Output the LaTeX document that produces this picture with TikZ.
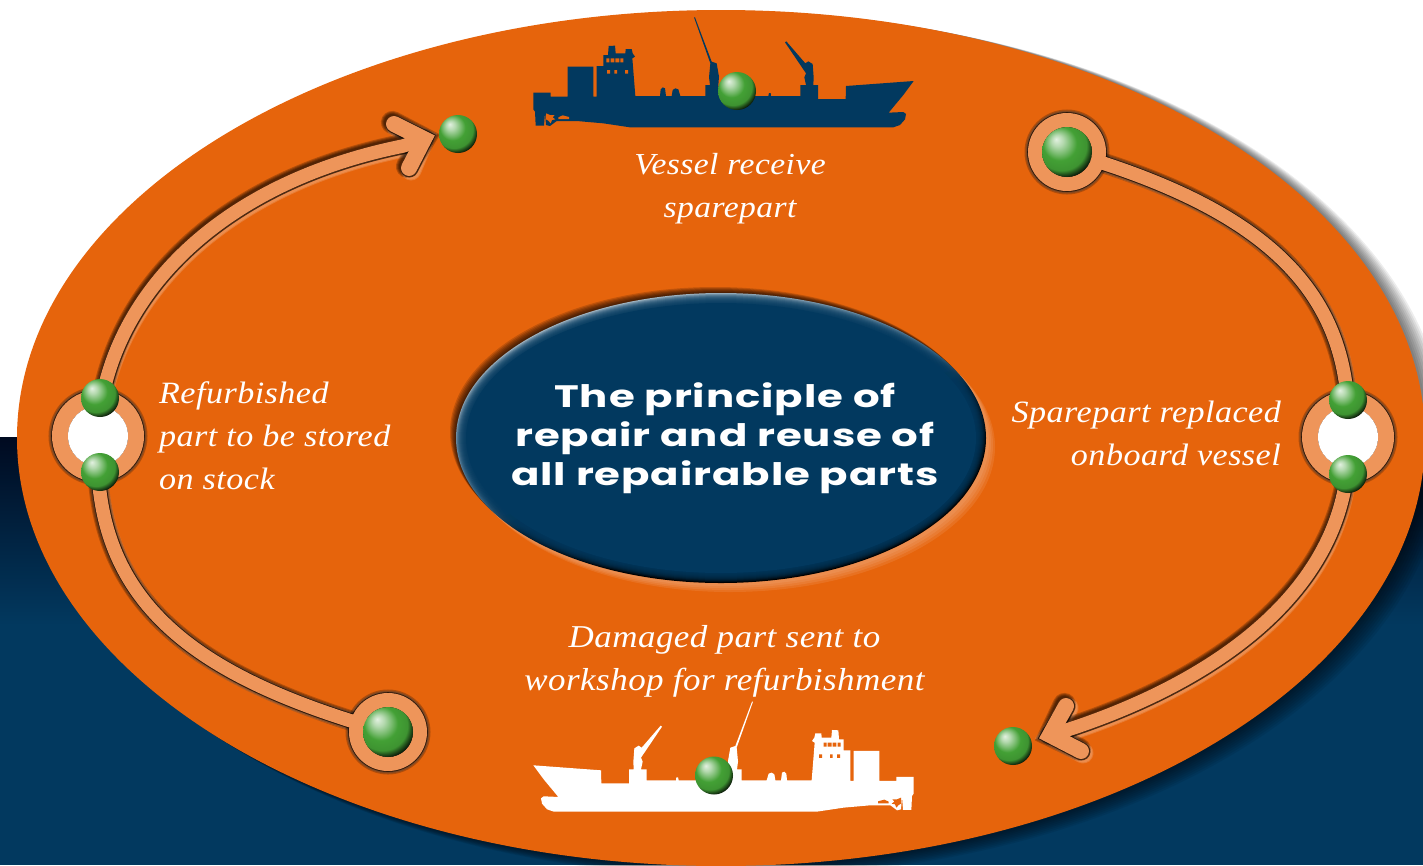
\documentclass[tikz,border=0pt]{standalone}
\usepackage{fontspec}
\setmainfont{Liberation Serif}
\newfontfamily\capfont[FakeStretch=1.1,LetterSpace=1.5]{Liberation Serif}
\newfontfamily\titlefont[FakeStretch=1.35,LetterSpace=3]{Poppins}
\definecolor{navy}{HTML}{02395F}
\definecolor{navydark}{HTML}{000A20}
\definecolor{plate}{HTML}{E6640C}
\definecolor{band}{HTML}{EE955A}
\definecolor{ballmid}{HTML}{43A035}
\pgfdeclareradialshading{gball}{\pgfpoint{-11bp}{13bp}}{%
 color(0bp)=(white!85!ballmid);
 color(6bp)=(white!60!ballmid);
 color(12bp)=(white!28!ballmid);
 color(17bp)=(ballmid);
 color(25bp)=(ballmid!92!black);
 color(28bp)=(ballmid!50!black);
 color(31bp)=(ballmid!12!black);
 color(33bp)=(black);
 color(50bp)=(black)}
\pgfdeclareverticalshading{rimshade}{100bp}{%
 color(0bp)=(black);
 color(36bp)=(black);
 color(46bp)=(navy!60!black);
 color(52bp)=(white!20!navy);
 color(72bp)=(white!62!navy);
 color(100bp)=(white!62!navy)}
\tikzset{
 gballnode/.style={circle,inner sep=0pt,outer sep=0pt,minimum size=#1,shading=gball},
 caption/.style={text=white,inner sep=0pt,font=\fontsize{31}{43}\selectfont\capfont\itshape},
 bandline/.style={line cap=round,line join=miter,miter limit=10},
}
% the whole band system, widened by #1; the colour etc. come from the scope
\newcommand\bandpaths[1]{%
 \draw[bandline,line width={13.5+#1}] (hubL) .. controls (102,310) and (205,186) .. (403,146) -- (tipA);
 \draw[bandline,line width={16+#1}] (394,124) -- (tipA) -- (409,168);
 \draw[bandline,line width={13.5+#1}] (hubR) .. controls (1354,298) and (1275,212) .. (hubTR);
 \draw[bandline,line width={13.5+#1}] (hubR) .. controls (1355,575) and (1235,675) .. (1067,730) -- (tipB);
 \draw[bandline,line width={16+#1}] (1081,751) -- (tipB) -- (1066,706);
 \draw[bandline,line width={13.5+#1}] (hubL) .. controls (90,600) and (190,676) .. (hubBL);
 \draw[line width={16+#1}] (hubL) circle (38) (hubR) circle (38);
 \draw[line width={14+#1}] (hubTR) circle (32) (hubBL) circle (32);
}
\newcommand\shipbody[1]{%
 \fill[#1] (47,377) -- (45,335) -- (40,328) -- (40,278) -- (92,278) -- (92,290) -- (143,290) -- (143,200)
  -- (220,200) -- (220,290) -- (230,290) -- (230,198) -- (250,198) -- (250,165) -- (264,165) -- (266,138)
  -- (285,137) -- (287,160) -- (316,160) -- (317,147) -- (335,147) -- (338,160) -- (345,170) -- (337,175)
  -- (346,288) -- (420,288) -- (422,268) -- (428,262) -- (435,265) -- (438,288) -- (455,288) -- (458,270)
  -- (466,265) -- (475,268) -- (481,288) -- (556,288) -- (556,255) -- (570,255) -- (567,232) -- (571,190)
  -- (522,52) -- (525,52) -- (575,185) -- (590,190) -- (597,230) -- (595,255) -- (600,288) -- (745,288)
  -- (747,279) -- (752,279) -- (753,288) -- (841,288) -- (841,255) -- (858,255) -- (853,232) -- (858,220)
  -- (795,127) -- (799,124) -- (856,190) -- (865,184) -- (878,192) -- (881,232) -- (880,255) -- (894,255)
  -- (894,297) -- (977,297) -- (978,258) -- (1181,243) -- (1150,285) -- (1106,338) -- (1150,336)
  -- (1158,342) -- (1155,358) -- (1140,375) -- (1120,382) -- (330,382) -- (250,370) -- (170,363)
  -- (110,363) -- (90,378) -- (78,375) -- (75,337) -- (72,377) -- cycle;
 \fill[plate] (259,175) rectangle (268,187) (272,175) rectangle (283,187) (286,175) rectangle (298,187)
  (301,175) rectangle (310,187) (261,210) rectangle (270,221) (283,210) rectangle (291,221)
  (315,210) rectangle (324,221);
 \fill[plate] (78,340) -- (90,345) -- (104,345) -- (98,352) -- (106,358) -- (96,360) -- (92,370) -- (85,362) -- (78,358) -- cycle;
 \fill[plate] (115,352) -- (128,346) -- (147,351) -- (147,357) -- (115,357) -- cycle;
}
\begin{document}
\begin{tikzpicture}[x=1pt,y=-1pt]
\clip (0,0) rectangle (1423,865);
\fill[white] (0,0) rectangle (1423,865);
% dark lower background
\path[top color=navydark,bottom color=navy,draw=none] (0,437) rectangle (1423,625);
\fill[navy] (0,624) rectangle (1423,865);
% plate shadow and plate
\foreach \s in {18,16,14,12,10,8,6,4,2}
 \fill[black,opacity=.07] (721+\s,438+.4*\s) ellipse [x radius={704+.2*\s},y radius={428+.2*\s}];
\fill[plate] (721,438) ellipse [x radius=704,y radius=428];
% anchors of the band system
\coordinate (hubL) at (98,436);
\coordinate (hubR) at (1348,437);
\coordinate (hubTR) at (1067,152);
\coordinate (hubBL) at (388,732);
\coordinate (tipA) at (424,139);
\coordinate (tipB) at (1050,735);
% emboss of the bands
\begin{scope}[shift={(2,2)},draw=white!70!plate,opacity=.22]
 \bandpaths{5}\bandpaths{3}
\end{scope}
\begin{scope}[shift={(.6,.6)},draw=black!80!plate,opacity=.7]
 \bandpaths{1.6}
\end{scope}
\begin{scope}[shift={(-1.6,-1.6)},draw=black,opacity=.22]
 \bandpaths{7}\bandpaths{5}\bandpaths{3}\bandpaths{1}
\end{scope}
\begin{scope}[draw=band]
 \bandpaths{0}
\end{scope}
\fill[white] (hubL) circle (30) (hubR) circle (30);
% centre ellipse
\foreach \s in {9,7,5,3}
 \fill[white!55!plate,opacity=.16] (721+\s,438+\s) ellipse [x radius=265,y radius=145];
\foreach \s in {6,5,4,3,2,1}
 \fill[black,opacity=.16] (721-\s,438-\s) ellipse [x radius=265,y radius=145];
\path[shading=rimshade,shading angle=18] (721,438) ellipse [x radius=265,y radius=145];
\foreach \s in {1,2,...,9}
 \fill[navy,opacity=.24] (721,438) ellipse [x radius={265-\s},y radius={145-\s}];
\fill[navy] (721,438) ellipse [x radius=255,y radius=135];
\node[text=white,align=center,inner sep=0pt,font=\fontsize{31}{39}\selectfont\titlefont\bfseries] (title) at (725,438)
 {The principle of\\repair and reuse of\\all repairable parts};
% ships
\begin{scope}[shift={(520,0)},xscale=.33333,yscale=.33333]
 \shipbody{navy}
\end{scope}
\begin{scope}[shift={(927,684.3)},xscale=-.33333,yscale=.33333]
 \shipbody{white}
\end{scope}
% balls
\node[gballnode=38pt] (ballShipTop) at (737,91) {};
\node[gballnode=38pt] (ballShipBottom) at (714,775.5) {};
\node[gballnode=38pt] (ballTopLeft) at (458,134) {};
\node[gballnode=38pt] (ballBottomRight) at (1013,746) {};
\node[gballnode=50pt] (ballTR) at (hubTR) {};
\node[gballnode=50pt] (ballBL) at (hubBL) {};
\node[gballnode=38pt] (ballLU) at (100,398) {};
\node[gballnode=38pt] (ballLD) at (100,472) {};
\node[gballnode=38pt] (ballRU) at (1348,400) {};
\node[gballnode=38pt] (ballRD) at (1348,474) {};
% captions
\node[caption,align=center,font=\fontsize{30.5}{43}\selectfont\capfont\itshape] (capTop) at (730,189) {Vessel receive\\sparepart};
\node[caption,align=left,anchor=west] (capLeft) at (159,436) {Refurbished\\part to be stored\\on stock};
\node[caption,align=right,anchor=east] (capRight) at (1281,433) {Sparepart replaced\\onboard vessel};
\node[caption,align=center,font=\fontsize{31.8}{43}\selectfont\capfont\itshape] (capBottom) at (724.5,661) {Damaged part sent to\\workshop for refurbishment};
\end{tikzpicture}
\end{document}
